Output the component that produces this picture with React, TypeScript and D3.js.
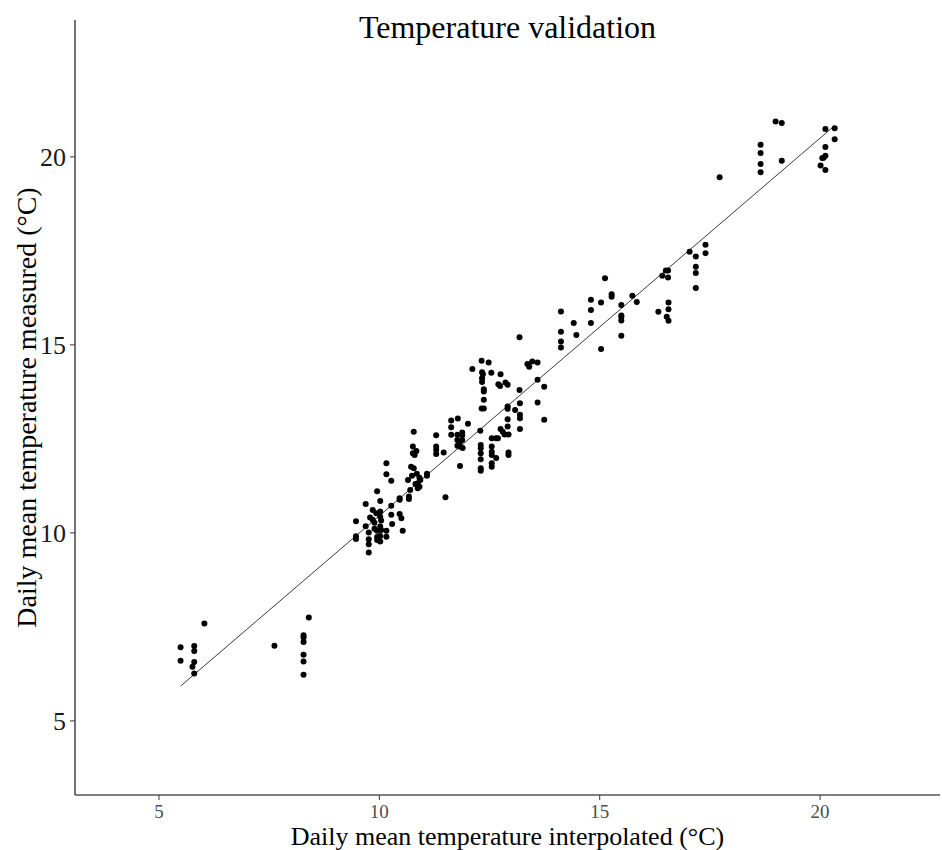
import React from 'react';
import * as d3 from 'd3';

// interpolated (x) vs measured (y) daily mean temperature, °C
const interpolated = [
  5.49, 5.49, 5.80, 5.80, 5.80, 5.76, 5.80, 6.03, 7.62, 8.40, 8.28, 8.28, 8.28, 8.28, 8.28, 8.28,
  9.47, 9.47, 9.47, 9.69, 9.69, 9.76, 9.76, 9.76, 9.76, 9.79, 9.85, 9.85, 9.89, 9.89, 9.93, 9.95,
  9.95, 9.95, 9.95, 10.02, 10.02, 10.02, 10.04, 10.02, 10.04, 10.02, 10.02, 10.16, 10.16, 10.16, 10.16,
  10.27, 10.27, 10.27, 10.29, 10.46, 10.46, 10.46, 10.50, 10.53, 10.65, 10.67, 10.67, 10.70, 10.72,
  10.78, 10.76, 10.80, 10.84, 10.74, 10.85, 10.87, 10.91, 10.93, 10.91, 11.08, 11.08, 10.78, 10.76,
  10.87, 10.82,
  11.29, 11.29, 11.29, 11.29, 11.46, 11.50, 11.63, 11.78, 11.63, 12.01, 11.63, 11.77, 11.88, 11.88,
  11.77, 11.82, 11.88, 11.77, 11.82, 11.89, 11.83,
  12.11, 12.32, 12.48, 12.33, 12.35, 12.54, 12.33, 12.33, 12.37, 12.37, 12.37, 12.32, 12.37, 12.29,
  12.30, 12.30, 12.30, 12.30, 12.30, 12.30,
  12.55, 12.65, 12.69, 12.55, 12.55, 12.55, 12.55, 12.55, 12.65, 12.75, 12.70, 12.74, 12.86, 12.91,
  12.75, 12.80, 12.84, 12.93, 12.93, 12.93, 12.91, 12.91, 12.91, 12.91, 13.08, 13.18, 13.19, 13.19,
  13.19, 13.19, 13.18, 13.36, 13.40, 13.47, 13.59, 13.59, 13.74, 13.59, 13.74,
  14.12, 14.12, 14.12, 14.12, 14.41, 14.47, 14.80, 14.80, 14.80, 15.03, 15.03, 15.12, 15.27, 15.27,
  15.49, 15.49, 15.49, 15.49, 15.49, 15.74, 15.84, 16.33, 16.42, 16.50, 16.55, 16.55, 16.56, 16.56,
  16.52, 16.56, 17.04, 17.18, 17.18, 17.18, 17.18, 17.40, 17.40, 17.72,
  18.65, 18.65, 18.65, 18.65, 18.99, 19.13, 19.13, 20.12, 20.33, 20.33, 20.12, 20.12, 20.08, 20.05,
  20.01, 20.12,
];

const measured = [
  6.96, 6.60, 6.99, 6.86, 6.57, 6.44, 6.26, 7.59, 7.00, 7.75, 7.28, 7.22, 7.10, 6.76, 6.58, 6.23,
  10.31, 9.91, 9.84, 10.77, 10.18, 10.01, 9.83, 9.70, 9.48, 10.41, 10.61, 10.35, 10.27, 10.11, 10.52, 11.11,
  10.06, 9.89, 9.81, 10.85, 10.57, 10.43, 10.33, 10.17, 10.08, 9.92, 9.77, 10.06, 9.90, 11.85, 11.56,
  11.39, 10.72, 10.48, 10.24, 10.92, 10.88, 10.50, 10.39, 10.06, 11.41, 10.97, 10.90, 11.14, 11.76,
  11.72, 12.12, 12.07, 12.18, 11.52, 11.57, 11.32, 11.23, 11.41, 11.47, 11.57, 11.52, 12.69, 12.30,
  11.19, 11.30,
  12.60, 12.30, 12.21, 12.10, 12.14, 10.95, 12.99, 13.04, 12.81, 12.90, 12.61, 12.61, 12.67, 12.60,
  12.47, 12.40, 12.47, 12.32, 12.30, 12.26, 11.78,
  14.36, 14.58, 14.53, 14.27, 14.22, 14.26, 14.11, 14.01, 13.82, 13.76, 13.54, 13.31, 13.31, 12.72,
  12.34, 12.25, 12.12, 11.96, 11.72, 11.65,
  12.52, 12.52, 12.52, 12.30, 12.16, 12.07, 11.85, 11.76, 11.99, 14.22, 13.95, 13.91, 14.00, 13.94,
  12.76, 12.69, 12.62, 12.62, 12.14, 12.07, 13.36, 13.30, 13.02, 12.83, 13.27, 13.80, 13.45, 13.14,
  13.05, 12.76, 15.20, 14.49, 14.42, 14.56, 14.53, 14.07, 13.89, 13.47, 13.01,
  15.89, 15.35, 15.09, 14.93, 15.58, 15.26, 16.20, 15.93, 15.58, 16.13, 14.89, 16.77, 16.35, 16.28,
  16.06, 15.78, 15.74, 15.65, 15.24, 16.31, 16.14, 15.88, 16.84, 16.98, 16.98, 16.79, 16.13, 15.95,
  15.75, 15.64, 17.48, 17.35, 17.08, 16.91, 16.51, 17.66, 17.44, 19.46,
  20.32, 20.10, 19.81, 19.59, 20.94, 20.90, 19.90, 20.74, 20.76, 20.47, 20.26, 20.03, 19.98, 19.97,
  19.77, 19.65,
];

const xTicks = [5, 10, 15, 20];
const yTicks = [5, 10, 15, 20];

const title = 'Temperature validation';
const xTitle = 'Daily mean temperature interpolated (°C)';
const yTitle = 'Daily mean temperature measured (°C)';

const W = 942;
const H = 850;
const margin = { top: 20, right: 2, bottom: 55, left: 75 };
const FONT = '"Liberation Serif", "Times New Roman", serif';

export default function App() {
  const x = d3.scaleLinear().domain([3.095, 22.72]).range([margin.left, W - margin.right]);
  const y = d3.scaleLinear().domain([3.03, 23.64]).range([H - margin.bottom, margin.top]);

  const points = interpolated.map((v, i) => ({ x: v, y: measured[i] }));

  // least squares fit, like geom_smooth(method = "lm")
  const mx = d3.mean(points, d => d.x)!;
  const my = d3.mean(points, d => d.y)!;
  const sxy = d3.sum(points, d => (d.x - mx) * (d.y - my));
  const sxx = d3.sum(points, d => (d.x - mx) ** 2);
  const slope = sxy / sxx;
  const icpt = my - slope * mx;
  const [x0, x1] = d3.extent(interpolated) as [number, number];
  const fitLine = d3.line<number>().x(d => x(d)).y(d => y(icpt + slope * d));

  const bottom = H - margin.bottom;
  const midX = (margin.left + W - margin.right) / 2;

  return (
    <svg width={W} height={H} style={{ position: 'absolute', left: 0, top: 0, background: '#fff' }}>
      <text x={midX} y={38} textAnchor="middle" fontFamily={FONT} fontSize={32} fill="#000">{title}</text>

      {/* axes */}
      <line x1={margin.left} x2={W - margin.right} y1={bottom} y2={bottom} stroke="#000" strokeWidth={1.1} />
      <line x1={margin.left} x2={margin.left} y1={margin.top} y2={bottom} stroke="#000" strokeWidth={1.1} />

      {xTicks.map(t => (
        <g key={'x' + t}>
          <line x1={x(t)} x2={x(t)} y1={bottom} y2={bottom + 5} stroke="#333" />
          <text x={x(t)} y={bottom + 23} textAnchor="middle" fontFamily={FONT} fontSize={19} fill="#4d4d4d">{t}</text>
        </g>
      ))}
      {yTicks.map(t => (
        <g key={'y' + t}>
          <line x1={margin.left - 5} x2={margin.left} y1={y(t)} y2={y(t)} stroke="#333" />
          <text x={margin.left - 9} y={y(t)} dy="0.35em" textAnchor="end" fontFamily={FONT} fontSize={26} fill="#1a1a1a">{t}</text>
        </g>
      ))}

      <text x={midX} y={845} textAnchor="middle" fontFamily={FONT} fontSize={26} fill="#000">{xTitle}</text>
      <text transform={`translate(36,${(margin.top + bottom) / 2}) rotate(-90)`} textAnchor="middle"
        fontFamily={FONT} fontSize={28} fill="#000">{yTitle}</text>

      <path d={fitLine([x0, x1]) ?? ''} fill="none" stroke="#222" strokeWidth={0.9} />

      {points.map((d, i) => (
        <circle key={i} cx={x(d.x)} cy={y(d.y)} r={3} fill="#000" />
      ))}
    </svg>
  );
}
